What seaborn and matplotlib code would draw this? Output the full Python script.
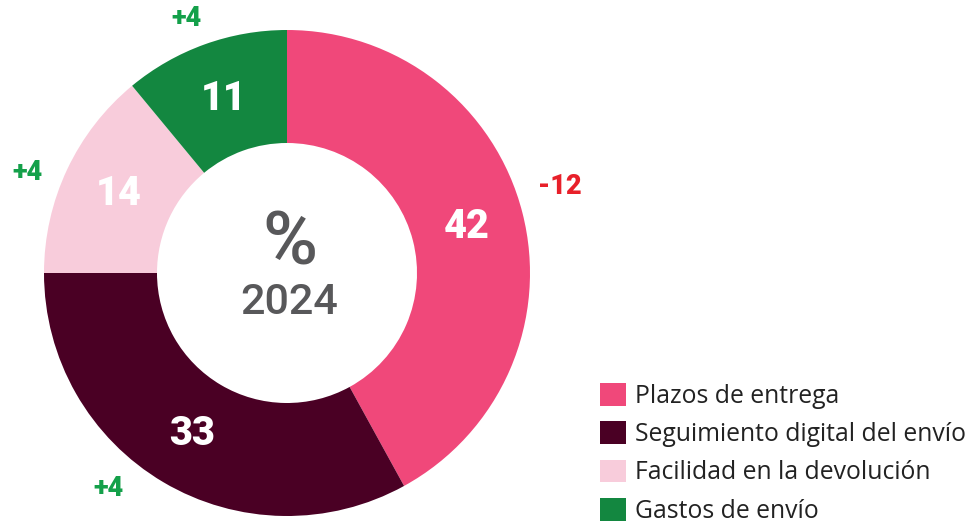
import matplotlib
matplotlib.use("Agg")
import matplotlib.pyplot as plt
import seaborn as sns
import numpy as np

# data
categories = ["Plazos de entrega", "Seguimiento digital del envío",
              "Facilidad en la devolución", "Gastos de envío"]
values = [42, 33, 14, 11]
changes = ["-12", "+4", "+4", "+4"]
colors = ["#F0487A", "#4A0024", "#F8CCDB", "#138740"]

sns.set_theme(style="white")
plt.rcParams['font.family'] = ['Open Sans', 'DejaVu Sans']

fig = plt.figure(figsize=(9.74, 5.24), dpi=100)
ax = fig.add_axes([44/974, 8/524, 486/974, 486/524])

wedges, _ = ax.pie(values, colors=colors, startangle=90, counterclock=False,
                   radius=1, wedgeprops=dict(width=0.465, edgecolor='none'))
ax.set_xlim(-1, 1)
ax.set_ylim(-1, 1)
ax.set_aspect('equal')
ax.axis('off')

# value labels inside the ring
for w, v in zip(wedges, values):
    mid = np.deg2rad((w.theta1 + w.theta2) / 2)
    ax.text(0.765*np.cos(mid), 0.765*np.sin(mid), str(v), ha='center', va='center',
            color='white', fontsize=28.5, fontweight='heavy',
            family=['Roboto', 'DejaVu Sans'])

# change labels outside (angle nudge in degrees, radius)
chg_offsets = [3.3, -9.0, 4.1, 1.8]
chg_radius = [1.177, 1.152, 1.144, 1.128]
for w, c, off, r in zip(wedges, changes, chg_offsets, chg_radius):
    mid = np.deg2rad((w.theta1 + w.theta2) / 2 + off)
    col = '#E8202A' if c.startswith('-') else '#14A04A'
    ax.text(r*np.cos(mid), r*np.sin(mid), c, ha='center', va='center',
            color=col, fontsize=19.5, fontweight='heavy', clip_on=False,
            family=['Roboto', 'DejaVu Sans'])

# centre text
ax.text(0.01, 0.12, "%", ha='center', va='center', fontsize=54,
        color='#58585A', fontweight='medium', family=['Roboto', 'DejaVu Sans'])
ax.text(0.01, -0.12, "2024", ha='center', va='center', fontsize=31,
        color='#58585A', fontweight='medium', family=['Roboto', 'DejaVu Sans'])

fig.legend(wedges, categories, loc='upper left',
           bbox_to_anchor=(600/974, 1 - 383/524), frameon=False,
           fontsize=17.8, handlelength=1.05, handleheight=1.05,
           handletextpad=0.35, labelspacing=0.5, borderpad=0, borderaxespad=0,
           labelcolor='#222222')

fig.savefig("out.png", dpi=100)
